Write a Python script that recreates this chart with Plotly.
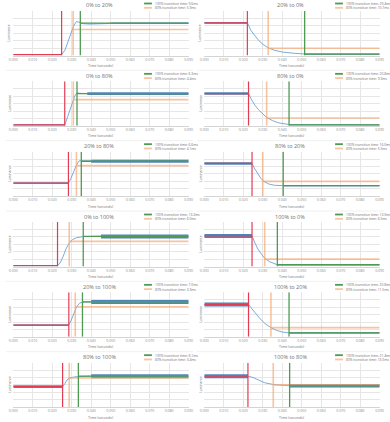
import plotly.graph_objects as go

W, H = 390, 422

titles = ["0% to 20%", "20% to 0%", "0% to 80%", "80% to 0%", "20% to 80%", "80% to 20%",
          "0% to 100%", "100% to 0%", "20% to 100%", "100% to 20%", "80% to 100%", "100% to 80%"]

# event times in milliseconds
start_ms = [24.8, 22.1, 26.4, 22.7, 28.3, 24.5, 22.7, 24.5, 28.5, 22.7, 25.3, 22.4]
t80_ms = [30.7, 32.8, 30.8, 32.0, 32.4, 30.0, 28.7, 31.0, 31.8, 34.2, 28.7, 35.4]
t100_ms = [34.4, 51.5, 32.7, 43.5, 34.9, 40.5, 35.9, 37.5, 35.5, 43.5, 33.4, 43.8]

# luminance levels (relative to each panel's axis)
init_level = [0.0, 0.73, 0.0, 0.72, 0.28, 0.73, 0.0, 0.68, 0.25, 0.72, 0.45, 0.69]
final_level = [0.72, 0.01, 0.72, 0.0, 0.78, 0.22, 0.67, 0.02, 0.78, 0.07, 0.69, 0.47]
level80 = [0.575, 0.145, 0.58, 0.16, 0.68, 0.32, 0.555, 0.15, 0.67, 0.19, 0.65, 0.49]

# transition curves (ms, level)
curve_ms_1 = [24.8, 26.5, 28, 29.5, 31, 32.4, 34, 36, 39, 44, 50]
curve_lv_1 = [0, 0.1, 0.3, 0.5, 0.66, 0.76, 0.745, 0.71, 0.7, 0.705, 0.715]
curve_ms_2 = [22.1, 24, 26, 28, 30, 32.8, 36, 40, 45, 51.5]
curve_lv_2 = [0.73, 0.55, 0.42, 0.32, 0.24, 0.155, 0.1, 0.06, 0.035, 0.015]
curve_ms_3 = [26.4, 28, 30, 31.5, 32.7, 34, 38]
curve_lv_3 = [0, 0.2, 0.48, 0.66, 0.74, 0.725, 0.72]
curve_ms_4 = [22.7, 24, 26, 28, 30, 32, 35, 38, 43.5]
curve_lv_4 = [0.72, 0.6, 0.45, 0.34, 0.25, 0.17, 0.1, 0.05, 0.01]
curve_ms_5 = [28.3, 29.5, 31, 32.4, 33.8, 35, 40]
curve_lv_5 = [0.28, 0.38, 0.55, 0.69, 0.79, 0.79, 0.78]
curve_ms_6 = [24.5, 26, 27.5, 29, 30.5, 33, 36, 40.5]
curve_lv_6 = [0.73, 0.6, 0.48, 0.39, 0.32, 0.26, 0.23, 0.22]
curve_ms_7 = [22.7, 24, 25.5, 27, 28.7, 30.5, 32.5, 35.9, 45]
curve_lv_7 = [0, 0.06, 0.2, 0.38, 0.52, 0.6, 0.64, 0.665, 0.675]
curve_ms_8 = [24.5, 26, 27.5, 29.5, 31.5, 33.5, 35.5, 37.5]
curve_lv_8 = [0.68, 0.52, 0.38, 0.25, 0.15, 0.09, 0.05, 0.02]
curve_ms_9 = [28.5, 29.7, 31, 32.5, 34, 35.5, 40]
curve_lv_9 = [0.25, 0.36, 0.52, 0.67, 0.75, 0.775, 0.78]
curve_ms_10 = [22.7, 24.5, 26.5, 28.5, 31, 34.2, 37, 40, 43.5]
curve_lv_10 = [0.72, 0.62, 0.5, 0.4, 0.29, 0.19, 0.13, 0.09, 0.07]
curve_ms_11 = [25.3, 26.5, 27.5, 28.7, 30, 31.5, 33.4, 40]
curve_lv_11 = [0.45, 0.52, 0.6, 0.645, 0.665, 0.675, 0.68, 0.69]
curve_ms_12 = [22.4, 25, 28, 31, 35.4, 39, 43.8]
curve_lv_12 = [0.69, 0.66, 0.6, 0.54, 0.5, 0.48, 0.47]

curves_ms = [curve_ms_1, curve_ms_2, curve_ms_3, curve_ms_4, curve_ms_5, curve_ms_6,
             curve_ms_7, curve_ms_8, curve_ms_9, curve_ms_10, curve_ms_11, curve_ms_12]
curves_lv = [curve_lv_1, curve_lv_2, curve_lv_3, curve_lv_4, curve_lv_5, curve_lv_6,
             curve_lv_7, curve_lv_8, curve_lv_9, curve_lv_10, curve_lv_11, curve_lv_12]

# steady-state noise band thickness (px)
init_width = [1, 1.8, 1, 2.6, 1.2, 2.6, 1, 4, 1.2, 4, 2.6, 4]
final_width = [1.4, 1, 2.8, 1, 2.8, 1.2, 4, 1, 4, 1.2, 4, 3.4]

x_end_ms = 90.0
x_ticks = [i / 100 for i in range(10)]
tick_text = ["%.3f" % v for v in x_ticks]

Y0, Y1 = -0.02, 1.0
RED = "#e43b55"
ORANGE = "rgba(245,170,115,0.7)"
GREEN = "#4f9a52"
BLUE = "#6aa3d8"
BLUE_D = "rgba(52,112,170,0.85)"
GRID = "#e6e6e6"
TXT = "#707070"

fig = go.Figure()
layout = dict(width=W, height=H, margin=dict(l=0, r=0, t=0, b=0),
              paper_bgcolor="white", plot_bgcolor="white", showlegend=False)
annotations = []
shapes = []

row_h = H / 6.0
for i in range(12):
    r, c = divmod(i, 2)
    n = i + 1
    xa = "x" if n == 1 else "x%d" % n
    ya = "y" if n == 1 else "y%d" % n
    r0 = r * row_h
    top_px = r0 + 11
    bot_px = r0 + 55.5
    x0_px = c * 195 + 9.5
    x1_px = c * 195 + 188.5
    layout["xaxis" if n == 1 else "xaxis%d" % n] = dict(
        domain=[x0_px / W, x1_px / W], anchor=ya, range=[0, x_end_ms / 1000],
        tickvals=x_ticks, ticktext=tick_text, tickfont=dict(size=3.5, color="#8a8a8a", family="Open Sans"),
        showgrid=True, gridcolor=GRID, gridwidth=0.6, zeroline=False,
        showline=True, linecolor="#d4d4d4", linewidth=0.6, ticks="", ticklen=0, fixedrange=True)
    layout["yaxis" if n == 1 else "yaxis%d" % n] = dict(
        domain=[1 - bot_px / H, 1 - top_px / H], anchor=xa, range=[Y0, Y1],
        dtick=0.17, tick0=Y0, showticklabels=False, showgrid=True, gridcolor=GRID, gridwidth=0.6,
        zeroline=False, showline=False, fixedrange=True)

    s = start_ms[i] / 1000
    t8 = t80_ms[i] / 1000
    t10 = t100_ms[i] / 1000
    a, b = init_level[i], final_level[i]
    cm = [v / 1000 for v in curves_ms[i]]
    cl = curves_lv[i]
    xe = x_end_ms / 1000

    # thick steady-state segments (noise band)
    fig.add_trace(go.Scatter(x=[0, s], y=[a, a], mode="lines", xaxis=xa, yaxis=ya,
                             line=dict(color=BLUE_D, width=init_width[i]), hoverinfo="skip"))
    fig.add_trace(go.Scatter(x=[cm[-1], xe], y=[b, b], mode="lines", xaxis=xa, yaxis=ya,
                             line=dict(color=BLUE_D, width=final_width[i]), hoverinfo="skip"))
    # transition curve
    fig.add_trace(go.Scatter(x=[0] + cm + [xe], y=[a] + cl + [b], mode="lines", xaxis=xa, yaxis=ya,
                             line=dict(color=BLUE, width=0.9), hoverinfo="skip"))
    # start marker (red)
    fig.add_trace(go.Scatter(x=[0, s, None, s, s], y=[a, a, None, Y0, Y1], mode="lines",
                             xaxis=xa, yaxis=ya, line=dict(color=RED, width=1.2), hoverinfo="skip"))
    # 80% marker (orange)
    fig.add_trace(go.Scatter(x=[t8, t8, None, t8, xe], y=[Y0, Y1, None, level80[i], level80[i]],
                             mode="lines", xaxis=xa, yaxis=ya, line=dict(color=ORANGE, width=1.6),
                             hoverinfo="skip"))
    # 100% marker (green)
    fig.add_trace(go.Scatter(x=[t10, t10, None, t10, xe], y=[Y0, Y1, None, b, b],
                             mode="lines", xaxis=xa, yaxis=ya, line=dict(color=GREEN, width=1.3),
                             hoverinfo="skip"))

    cx = c * 195
    # title
    annotations.append(dict(text=titles[i], x=(cx + 97) / W, y=1 - (r0 + 5.5) / H, xref="paper",
                            yref="paper", showarrow=False, xanchor="center", yanchor="middle",
                            font=dict(size=5.5, color=TXT, family="Open Sans")))
    # legend
    for k, (col, lab) in enumerate([(GREEN, "100%% transition time: %.1fms" % (t100_ms[i] - start_ms[i])),
                                    (ORANGE, "80%% transition time: %.1fms" % (t80_ms[i] - start_ms[i]))]):
        ly = r0 + 3.5 + k * 4.3
        shapes.append(dict(type="line", xref="paper", yref="paper", x0=(cx + 143) / W,
                           x1=(cx + 151) / W, y0=1 - ly / H, y1=1 - ly / H,
                           line=dict(color=col, width=1.8)))
        annotations.append(dict(text=lab, x=(cx + 152) / W, y=1 - ly / H, xref="paper", yref="paper",
                                showarrow=False, xanchor="left", yanchor="middle",
                                font=dict(size=3.3, color=TXT, family="Open Sans")))
    # axis titles
    annotations.append(dict(text="Time (seconds)", x=(cx + 99) / W, y=1 - (r0 + 65.5) / H,
                            xref="paper", yref="paper", showarrow=False, xanchor="center",
                            yanchor="middle", font=dict(size=3.6, color=TXT, family="Open Sans")))
    annotations.append(dict(text="Luminance", x=(cx + 5.5) / W, y=1 - (r0 + 33) / H, textangle=-90,
                            xref="paper", yref="paper", showarrow=False, xanchor="center",
                            yanchor="middle", font=dict(size=3.3, color=TXT, family="Open Sans")))
    # panel separator below each row
    if r < 5:
        shapes.append(dict(type="line", xref="paper", yref="paper", x0=(cx + 2) / W, x1=(cx + 193) / W,
                           y0=1 - (r0 + row_h) / H, y1=1 - (r0 + row_h) / H,
                           line=dict(color="#ececec", width=0.8)))

layout["annotations"] = annotations
layout["shapes"] = shapes
fig.update_layout(**layout)
fig.write_html("out.html", config={"displayModeBar": False})
